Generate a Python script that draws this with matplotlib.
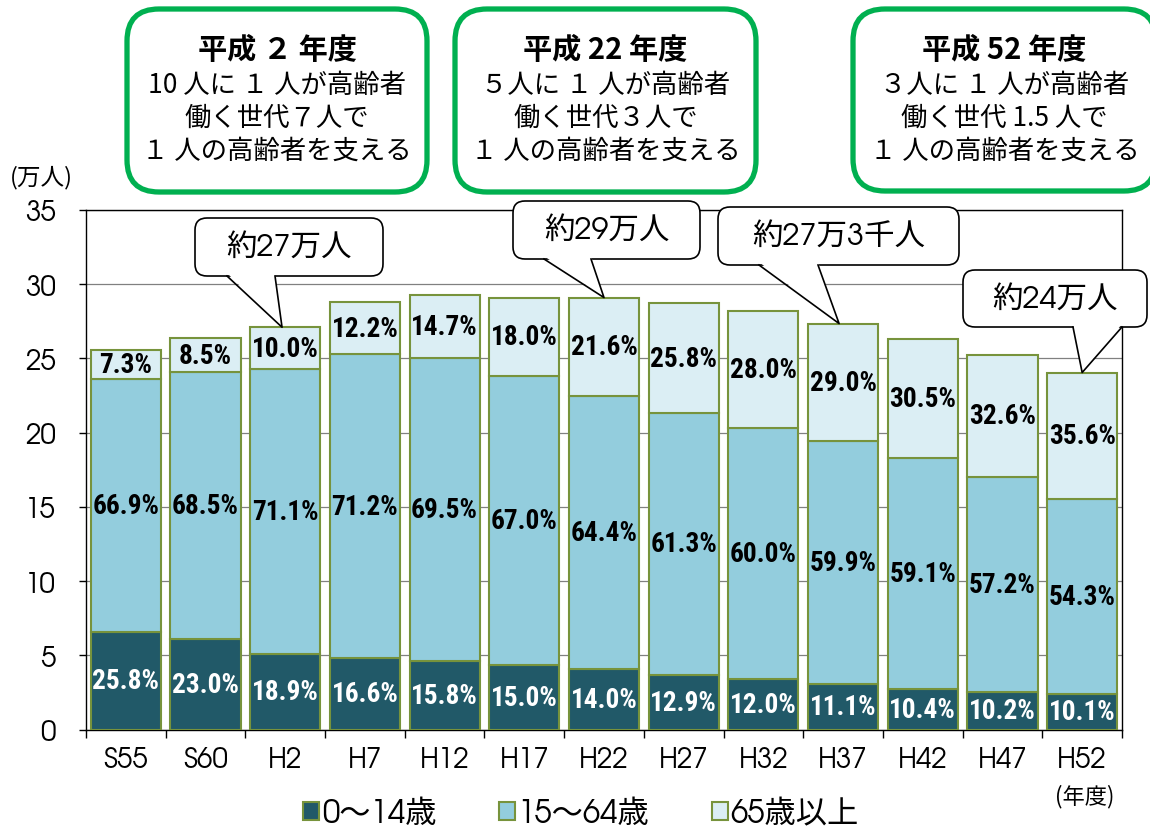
import matplotlib
matplotlib.use("Agg")
import matplotlib.pyplot as plt
from matplotlib.patches import FancyBboxPatch, Polygon, Patch
from matplotlib.lines import Line2D
from matplotlib import font_manager
import numpy as np

_avail = {f.name for f in font_manager.fontManager.ttflist}


def fams(cands, tail):
    return [f for f in cands if f in _avail] + tail


CJK = 'Noto Sans CJK JP'
plt.rcParams['font.family'] = [CJK, 'DejaVu Sans']

# ---------------- data (万人) ----------------
categories = ["S55", "S60", "H2", "H7", "H12", "H17", "H22", "H27", "H32", "H37", "H42", "H47", "H52"]
young = [6.6, 6.1, 5.1, 4.8, 4.6, 4.35, 4.05, 3.7, 3.4, 3.05, 2.75, 2.55, 2.4]
working = [17.0, 18.0, 19.2, 20.5, 20.4, 19.45, 18.45, 17.6, 16.9, 16.4, 15.55, 14.45, 13.1]
elderly = [1.95, 2.25, 2.8, 3.5, 4.3, 5.3, 6.6, 7.45, 7.9, 7.9, 8.0, 8.25, 8.55]
young_pct = ["25.8%", "23.0%", "18.9%", "16.6%", "15.8%", "15.0%", "14.0%", "12.9%", "12.0%", "11.1%", "10.4%", "10.2%", "10.1%"]
working_pct = ["66.9%", "68.5%", "71.1%", "71.2%", "69.5%", "67.0%", "64.4%", "61.3%", "60.0%", "59.9%", "59.1%", "57.2%", "54.3%"]
elderly_pct = ["7.3%", "8.5%", "10.0%", "12.2%", "14.7%", "18.0%", "21.6%", "25.8%", "28.0%", "29.0%", "30.5%", "32.6%", "35.6%"]
series_names = ["0～14歳", "15～64歳", "65歳以上"]
yticks = [0, 5, 10, 15, 20, 25, 30, 35]

callout_texts = ["約27万人", "約29万人", "約27万3千人", "約24万人"]
callout_bars = [2, 6, 9, 12]

box_titles = ["平成 ２ 年度", "平成 22 年度", "平成 52 年度"]
box_lines = [
    ["10 人に １ 人が高齢者", "働く世代７人で", "１ 人の高齢者を支える"],
    ["５人に １ 人が高齢者", "働く世代３人で", "１ 人の高齢者を支える"],
    ["３人に １ 人が高齢者", "働く世代 1.5 人で", "１ 人の高齢者を支える"],
]

# ---------------- style ----------------
c_young = "#215968"
c_work = "#93CDDD"
c_old = "#DBEEF4"
c_edge = "#77933C"
c_green = "#00B050"

geo = fams(['TeX Gyre Adventor', 'URW Gothic', 'Didact Gothic', 'Questrial'], [CJK, 'DejaVu Sans'])
narrow = fams(['Roboto Condensed', 'Archivo Narrow', 'PT Sans Narrow', 'Sofia Sans Condensed',
               'Open Sans Condensed'], ['DejaVu Sans'])

W, H = 1150, 829
fig = plt.figure(figsize=(W / 100, H / 100), dpi=100)
ax = fig.add_axes([86 / W, 1 - 730.5 / H, (1122 - 86) / W, (730.5 - 211) / H])

x = np.arange(len(categories))
young = np.array(young)
working = np.array(working)
elderly = np.array(elderly)
bw = 0.88
ax.bar(x, young, bw, color=c_young, edgecolor=c_edge, linewidth=1.5, zorder=3)
ax.bar(x, working, bw, bottom=young, color=c_work, edgecolor=c_edge, linewidth=1.5, zorder=3)
ax.bar(x, elderly, bw, bottom=young + working, color=c_old, edgecolor=c_edge, linewidth=1.5, zorder=3)

ax.set_xlim(-0.5, len(categories) - 0.5)
ax.set_ylim(0, 35)

# percentage labels: condensed bold font, sized to the width seen in the picture
fig.canvas.draw()
renderer = fig.canvas.get_renderer()
probe = fig.text(0, 0, "25.8%", fontsize=19, fontweight='bold', family=narrow)
pw = probe.get_window_extent(renderer).width
probe.remove()
pct_size = min(22.0, 19.0 * 67.0 / pw)
pct_font = dict(family=narrow, fontsize=pct_size, fontweight='bold')
for i in range(len(categories)):
    ax.text(x[i], young[i] / 2, young_pct[i], ha='center', va='center', color='white', zorder=5, **pct_font)
    ax.text(x[i], young[i] + working[i] / 2, working_pct[i], ha='center', va='center', color='black', zorder=5, **pct_font)
    ax.text(x[i], young[i] + working[i] + elderly[i] / 2, elderly_pct[i], ha='center', va='center', color='black', zorder=5, **pct_font)

ax.set_yticks(yticks)
ax.set_yticklabels([str(v) for v in yticks], fontsize=20, family=geo)
ax.set_xticks(x)
ax.set_xticklabels(categories, fontsize=20, family=geo)
ax.set_xticks(np.arange(-0.5, len(categories), 1.0), minor=True)
ax.tick_params(axis='x', which='major', length=0, pad=12)
ax.tick_params(axis='x', which='minor', length=6, width=1, direction='out', color='black')
ax.tick_params(axis='y', length=5, width=1, direction='out', pad=17)
ax.yaxis.grid(True, color='#808080', linewidth=0.9, zorder=0)
ax.set_axisbelow(True)
for s in ax.spines.values():
    s.set_color('black')
    s.set_linewidth(1.0)

fig.text(10 / W, 1 - 178 / H, "(万人)", fontsize=17, ha='left', va='center')
fig.text(1085 / W, 1 - 797 / H, "(年度)", fontsize=16, ha='center', va='center')

handles = [Patch(facecolor=c, edgecolor=c_edge, linewidth=1.5) for c in (c_young, c_work, c_old)]
fig.legend(handles, series_names, loc='center', bbox_to_anchor=(581 / W, 1 - 814 / H), ncol=3,
           frameon=False, prop=font_manager.FontProperties(family=geo, size=22.5),
           handlelength=0.5, handleheight=0.5, handletextpad=0.1,
           columnspacing=2.0, borderaxespad=0)

# ---------------- overlay (pixel coordinates, y downward) ----------------
ov = fig.add_axes([0, 0, 1, 1], zorder=10)
ov.set_xlim(0, W)
ov.set_ylim(H, 0)
ov.axis('off')
ov.patch.set_alpha(0)

# green info boxes
gboxes = [(127, 10, 427, 193), (455, 10, 756, 193), (853, 10, 1156, 192)]
for (x0, y0, x1, y1), title, lines in zip(gboxes, box_titles, box_lines):
    p = FancyBboxPatch((x0, y0), x1 - x0, y1 - y0, boxstyle="round,pad=0,rounding_size=32",
                       fc='white', ec=c_green, lw=3.8)
    ov.add_patch(p)
    cx = (x0 + x1) / 2
    ov.text(cx, 50, title, ha='center', va='center', fontsize=21, fontweight='bold')
    for k, ln in enumerate(lines):
        ov.text(cx, 85 + 33 * k, ln, ha='center', va='center', fontsize=19)

# callouts
cboxes = [(195, 219, 383, 277), (513, 202, 700, 260), (718, 208, 959, 266), (963, 271, 1147, 328)]
cbases = [(227, 275), (544, 591), (759, 818), (1073, 1122)]
tip_dx = [-0.04, 0.0, -0.05, 0.0]
totals = young + working + elderly
for (x0, y0, x1, y1), (b1, b2), txt, bi, dx in zip(cboxes, cbases, callout_texts, callout_bars, tip_dx):
    disp = ax.transData.transform((x[bi] + dx, totals[bi]))
    tx, ty = ov.transData.inverted().transform(disp)
    p = FancyBboxPatch((x0, y0), x1 - x0, y1 - y0, boxstyle="round,pad=0,rounding_size=12",
                       fc='white', ec='black', lw=1.2, zorder=2)
    ov.add_patch(p)
    ov.add_patch(Polygon([(b1, y1 - 3), (tx, ty), (b2, y1 - 3)], closed=True, fc='white', ec='none', zorder=3))
    ov.add_line(Line2D([b1, tx, b2], [y1, ty, y1], color='black', lw=1.2, zorder=4))
    ov.text((x0 + x1) / 2, (y0 + y1) / 2, txt, ha='center', va='center', fontsize=22, zorder=5, family=geo)

fig.savefig("out.png", dpi=100)
